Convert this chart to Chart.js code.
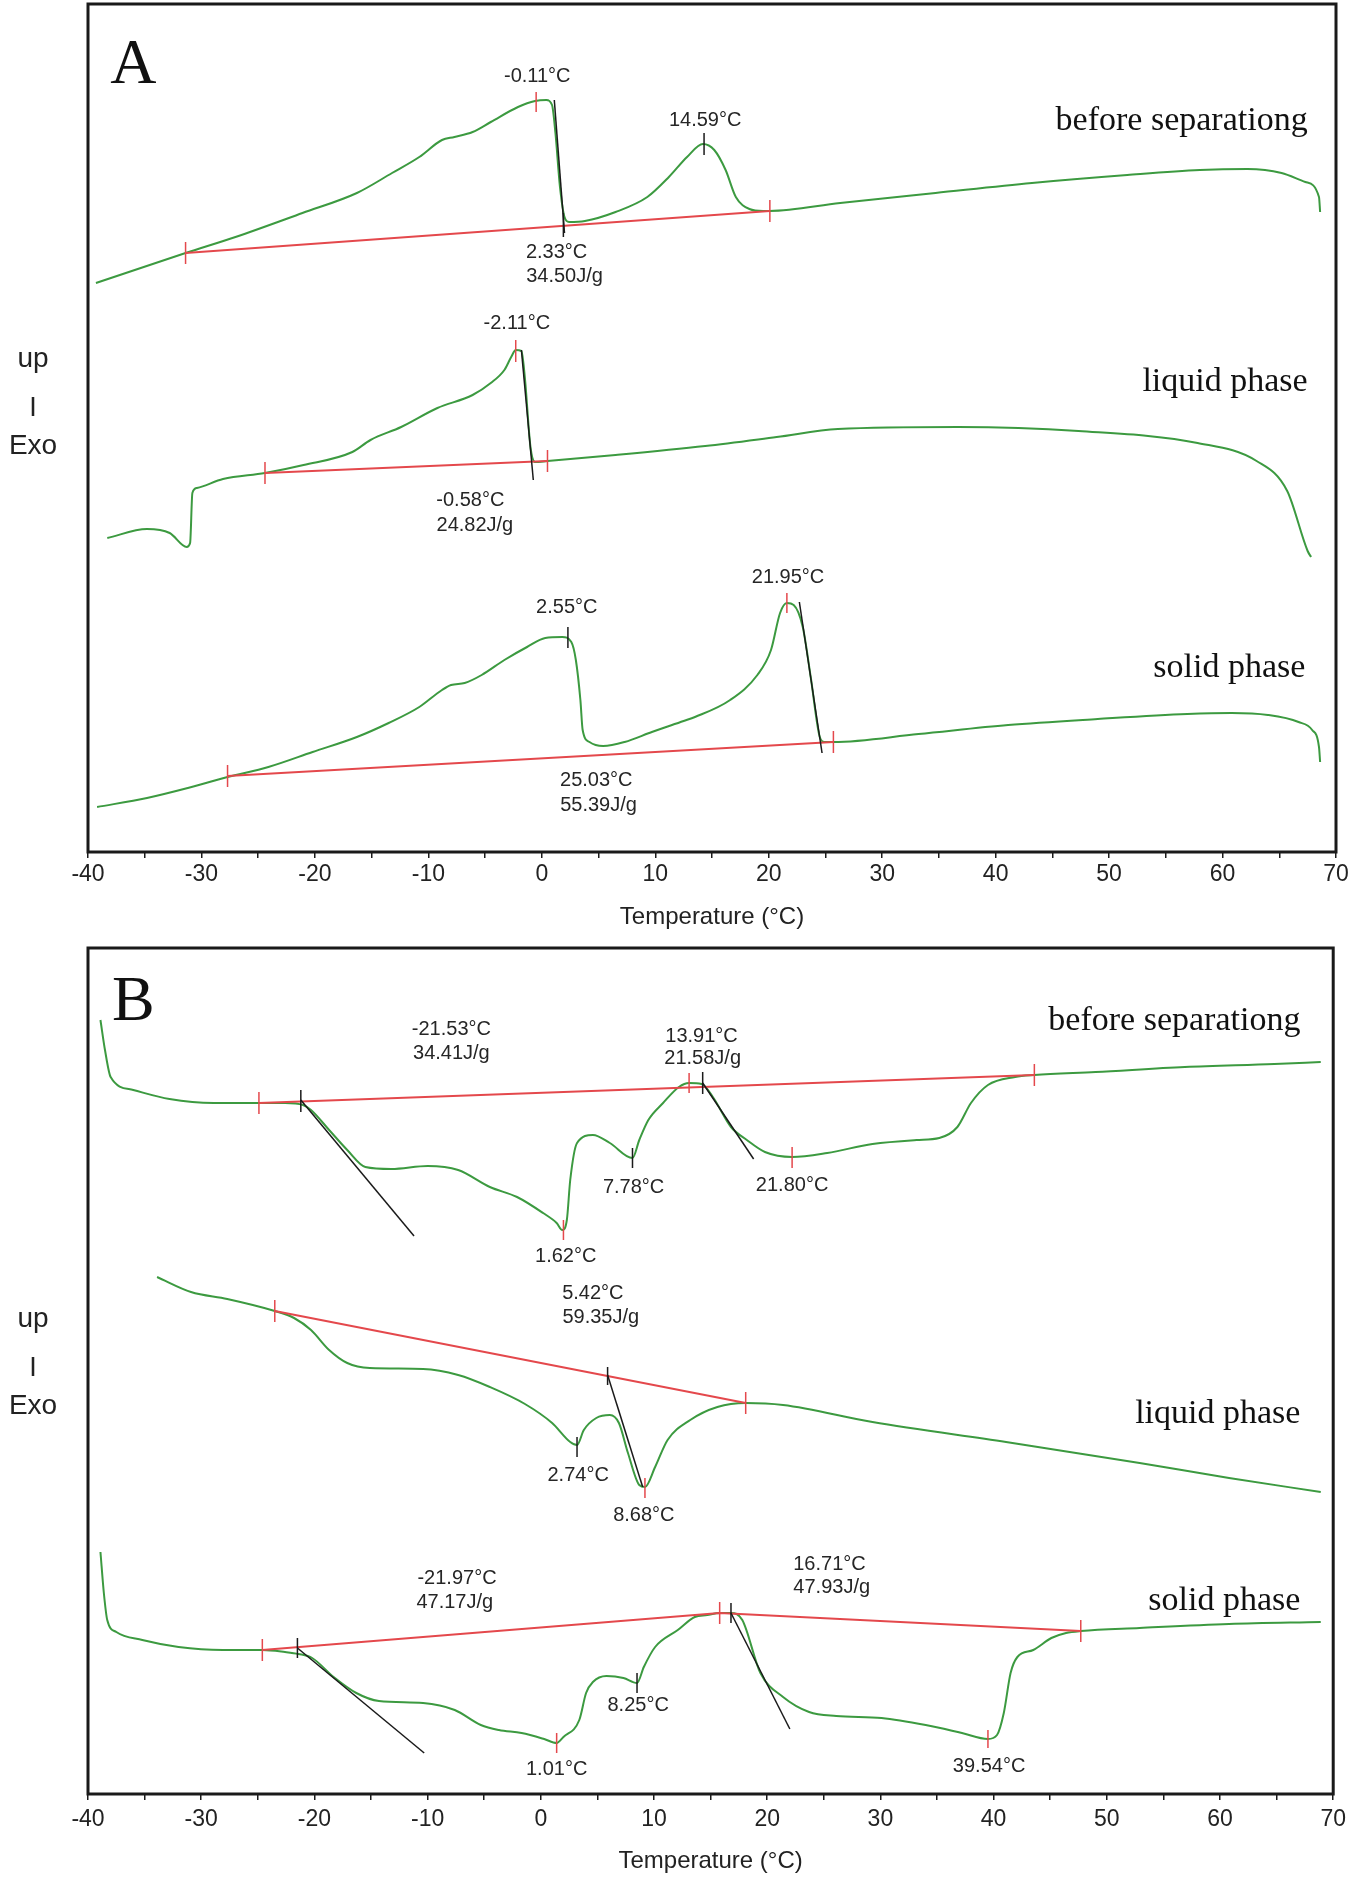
<!DOCTYPE html>
<html>
<head>
<meta charset="utf-8">
<title>DSC thermograms</title>
<script src="https://cdn.jsdelivr.net/npm/chart.js@4.4.0/dist/chart.umd.min.js"></script>
<style>
    html, body { margin: 0; padding: 0; background: #fff; }
    .panel { position: absolute; left: 0; width: 1352px; }
    #panelA { top: 0; height: 940px; }
    #panelB { top: 940px; height: 938px; }
</style>
</head>
<body>
<div class="panel" id="panelA"><canvas id="chartA"></canvas></div>
<div class="panel" id="panelB"><canvas id="chartB"></canvas></div>
<script>
// ============================================================================
// Data (heat flow in arbitrary units, exo up)
// ============================================================================

const majorTemps = [-40, -30, -20, -10, 0, 10, 20, 30, 40, 50, 60, 70];
const tempTicks = [-40, -35, -30, -25, -20, -15, -10, -5, 0, 5, 10, 15, 20, 25, 30, 35, 40, 45, 50, 55, 60, 65, 70];

// --- Panel A : before separation ---
const aBeforeTemp = [-39.3, -31.4, -27.0, -21.1, -16.3, -13.2, -10.8, -8.8, -7.7, -6.1, -4.5, -2.1, -0.6, 0.4, 0.9, 1.2, 1.6, 2.0, 2.4, 3.8, 6.5, 9.3, 11.2, 12.8, 14.2, 15.2, 16.2, 17.1, 18.3, 19.5, 20.1, 26.3, 34.7, 43.2, 51.6, 58.0, 62.2, 65.2, 67.3, 68.5, 68.6];
const aBeforeFlow = [569, 599, 615, 639, 659, 679, 695, 712, 715, 720, 730, 745, 751, 752, 747, 719, 665, 635, 630, 631, 640, 655, 675, 695, 708, 702, 682, 655, 643, 641, 641, 649, 659, 669, 677, 682, 683, 679, 670, 655, 640];
const aBeforeBaseTemp = [-31.4, 20.1];
const aBeforeBaseFlow = [599, 641];
const aBeforeTanTemp = [1.1, 2.0];
const aBeforeTanFlow = [752, 619];
const aBeforeRedTicks = [[-31.4, 588, 610], [-0.5, 740, 760], [20.1, 630, 652]];
const aBeforeBlackTicks = [[14.3, 697, 719], [1.9, 615, 639]];
const aBeforeNotes = [['-0.11°C', -0.4, 776], ['14.59°C', 14.4, 732], ['2.33°C', 1.3, 600], ['34.50J/g', 2.0, 576]];

// --- Panel A : liquid phase ---
const aLiquidTemp = [-38.3, -34.8, -32.8, -31.3, -31.0, -30.8, -30.4, -28.1, -24.4, -21.0, -16.7, -15.1, -12.4, -9.2, -6.1, -4.5, -3.3, -2.7, -2.3, -1.8, -1.5, -1.0, -0.6, 0.5, 6.5, 14.4, 20.7, 26.1, 36.7, 47.3, 57.8, 63.0, 65.7, 67.5, 67.8];
const aLiquidFlow = [314, 323, 319, 305, 309, 359, 364, 373, 379, 387, 400, 412, 425, 444, 457, 469, 482, 495, 502, 501, 475, 405, 390, 391, 397, 406, 415, 423, 425, 421, 409, 391, 361, 301, 295];
const aLiquidBaseTemp = [-24.4, 0.5];
const aLiquidBaseFlow = [379, 391];
const aLiquidTanTemp = [-1.8, -0.75];
const aLiquidTanFlow = [502, 372];
const aLiquidRedTicks = [[-24.4, 368, 390], [0.5, 380, 402], [-2.3, 490, 512]];
const aLiquidBlackTicks = [];
const aLiquidNotes = [['-2.11°C', -2.2, 529], ['-0.58°C', -6.3, 352], ['24.82J/g', -5.9, 327]];

// --- Panel A : solid phase ---
const aSolidTemp = [-39.2, -34.8, -31.2, -27.7, -24.1, -20.2, -16.3, -13.5, -10.8, -8.8, -8.0, -6.8, -5.3, -3.3, -1.3, 0.3, 1.8, 2.6, 3.0, 3.4, 3.6, 4.2, 5.4, 7.3, 9.7, 12.5, 13.5, 16.6, 19.0, 20.2, 21.0, 21.6, 22.2, 23.0, 23.7, 24.5, 24.9, 25.7, 33.2, 41.1, 49.0, 56.9, 60.8, 64.0, 66.7, 67.9, 68.5, 68.6];
const aSolidFlow = [45, 54, 64, 75, 85, 100, 115, 129, 145, 162, 167, 169, 177, 192, 205, 214, 215, 210, 192, 152, 122, 110, 106, 110, 120, 131, 135, 152, 177, 202, 239, 249, 247, 225, 175, 115, 110, 110, 118, 127, 133, 138, 139, 137, 130, 122, 105, 90];
const aSolidBaseTemp = [-27.7, 25.7];
const aSolidBaseFlow = [76, 110];
const aSolidTanTemp = [22.7, 24.7];
const aSolidTanFlow = [250, 99];
const aSolidRedTicks = [[-27.7, 65, 87], [25.7, 99, 121], [21.6, 239, 259]];
const aSolidBlackTicks = [[2.3, 204, 225]];
const aSolidNotes = [['2.55°C', 2.2, 245], ['21.95°C', 21.7, 275], ['25.03°C', 4.8, 72], ['55.39J/g', 5.0, 47]];

// --- Panel B : before separation ---
const bBeforeTemp = [-38.9, -38.5, -38.0, -36.0, -32.8, -28.9, -25.0, -22.6, -21.0, -20.3, -18.7, -17.1, -15.5, -13.2, -10.0, -7.3, -4.5, -2.1, 0.2, 1.4, 1.9, 2.3, 2.6, 3.2, 4.6, 6.1, 8.1, 8.7, 9.5, 10.8, 12.2, 13.1, 14.2, 15.2, 16.8, 18.2, 19.8, 22.2, 25.3, 29.3, 33.2, 35.2, 36.8, 38.0, 39.5, 41.9, 43.6, 49.0, 56.9, 64.8, 68.9];
const bBeforeFlow = [774, 744, 717, 704, 695, 691, 691, 691, 689, 684, 664, 644, 627, 625, 628, 624, 607, 597, 581, 571, 564, 574, 614, 651, 659, 651, 636, 654, 674, 691, 707, 711, 710, 697, 667, 654, 642, 637, 641, 650, 654, 656, 667, 691, 709, 717, 719, 722, 727, 730, 732];
const bBeforeBaseTemp = [-24.9, 43.6];
const bBeforeBaseFlow = [691, 719];
const bBeforeTan1Temp = [-21.2, -11.2];
const bBeforeTan1Flow = [694, 558];
const bBeforeTan2Temp = [14.3, 18.8];
const bBeforeTan2Flow = [711, 635];
const bBeforeRedTicks = [[-24.9, 680, 702], [13.1, 701, 721], [43.6, 708, 730], [2.0, 554, 574], [22.2, 626, 647]];
const bBeforeBlackTicks = [[-21.2, 682, 704], [14.3, 700, 722], [8.1, 626, 646]];
const bBeforeNotes = [['-21.53°C', -7.9, 765], ['34.41J/g', -7.9, 741], ['13.91°C', 14.2, 758], ['21.58J/g', 14.3, 736], ['7.78°C', 8.2, 607], ['1.62°C', 2.2, 538], ['21.80°C', 22.2, 609]];

// --- Panel B : liquid phase ---
const bLiquidTemp = [-33.9, -30.9, -27.7, -23.5, -21.8, -20.3, -18.7, -17.1, -15.1, -10.4, -7.3, -4.5, -1.4, 1.0, 2.6, 3.2, 3.8, 4.9, 6.1, 6.9, 7.7, 8.7, 9.2, 10.1, 11.2, 13.2, 15.6, 18.1, 21.4, 29.3, 41.1, 52.9, 60.8, 68.9];
const bLiquidFlow = [517, 502, 495, 483, 476, 464, 444, 431, 426, 425, 419, 407, 390, 371, 352, 349, 364, 376, 379, 371, 341, 309, 307, 327, 354, 374, 387, 391, 389, 372, 352, 331, 316, 302];
const bLiquidBaseTemp = [-23.5, 18.1];
const bLiquidBaseFlow = [483, 391];
const bLiquidTanTemp = [5.9, 9.0];
const bLiquidTanFlow = [419, 307];
const bLiquidRedTicks = [[-23.5, 472, 494], [18.1, 380, 402], [9.2, 296, 316]];
const bLiquidBlackTicks = [[3.2, 337, 357], [5.9, 409, 427]];
const bLiquidNotes = [['5.42°C', 4.6, 501], ['59.35J/g', 5.3, 477], ['2.74°C', 3.3, 319], ['8.68°C', 9.1, 279]];

// --- Panel B : solid phase ---
const bSolidTemp = [-38.9, -38.6, -38.3, -37.5, -35.2, -32.0, -28.1, -24.6, -22.6, -21.4, -20.2, -18.3, -16.3, -14.3, -10.4, -7.6, -5.3, -3.7, -1.7, 0.3, 1.4, 2.0, 3.4, 4.0, 4.6, 5.8, 7.3, 8.5, 9.1, 10.1, 12.1, 13.6, 14.7, 15.8, 16.8, 17.8, 19.4, 21.4, 23.7, 26.1, 30.1, 34.0, 37.2, 39.5, 40.3, 40.9, 41.5, 42.1, 43.5, 45.1, 46.4, 47.7, 52.9, 60.8, 68.9];
const bSolidFlow = [242, 201, 174, 162, 154, 147, 144, 144, 142, 140, 136, 117, 101, 93, 91, 84, 69, 64, 61, 55, 51, 57, 74, 101, 112, 118, 116, 111, 127, 147, 164, 177, 179, 181, 181, 174, 121, 97, 82, 78, 76, 69, 61, 55, 59, 81, 121, 137, 144, 156, 161, 163, 166, 170, 172];
const bSolidBaseTemp = [-24.6, 15.8, 47.7];
const bSolidBaseFlow = [144, 181, 163];
const bSolidTan1Temp = [-21.5, -10.3];
const bSolidTan1Flow = [146, 41];
const bSolidTan2Temp = [16.8, 22.0];
const bSolidTan2Flow = [181, 65];
const bSolidRedTicks = [[-24.6, 133, 155], [15.8, 170, 192], [47.7, 152, 174], [1.4, 41, 61], [39.5, 46, 64]];
const bSolidBlackTicks = [[-21.5, 136, 156], [8.5, 101, 121], [16.8, 171, 191]];
const bSolidNotes = [['-21.97°C', -7.4, 216], ['47.17J/g', -7.6, 192], ['1.01°C', 1.4, 25], ['8.25°C', 8.6, 89], ['16.71°C', 25.5, 230], ['47.93J/g', 25.7, 207], ['39.54°C', 39.6, 28]];

// sample names [text, right edge temp, baseline flow]
const aNames = [['before separationg', 67.5, 722], ['liquid phase', 67.5, 461], ['solid phase', 67.3, 175]];
const bNames = [['before separationg', 67.1, 764], ['liquid phase', 67.1, 371], ['solid phase', 67.1, 184]];

// ============================================================================
// Styling helpers
// ============================================================================

const GREEN = '#3c9a40';
const RED = '#e4484c';
const INK = '#1a1a1a';
const SANS = '"Liberation Sans", Arial, sans-serif';
const SERIF = '"Liberation Serif", "Times New Roman", serif';

Chart.defaults.font.family = SANS;
Chart.defaults.color = '#222';

const pts = (temps, flows) => temps.map((t, i) => ({ x: t, y: flows[i] }));

function markSets(list, color) {
    return list.map(m => ({
        data: [{ x: m[0], y: m[1] }, { x: m[0], y: m[2] }],
        borderColor: color, borderWidth: 1.5, pointRadius: 0, order: 1
    }));
}

// Frame, peak notes, sample names, panel letter and the "up | Exo" tag
const panelDecor = {
    id: 'panelDecor',
    afterDatasetsDraw(chart, args, opts) {
        const { ctx, chartArea: area, scales: { x, y } } = chart;
        ctx.save();

        ctx.strokeStyle = INK;
        ctx.lineWidth = 3;
        ctx.strokeRect(area.left, area.top, area.right - area.left, area.bottom - area.top);

        ctx.fillStyle = '#262626';
        ctx.font = '20px ' + SANS;
        ctx.textAlign = 'center';
        ctx.textBaseline = 'middle';
        opts.notes.forEach(([txt, t, h]) => ctx.fillText(txt, x.getPixelForValue(t), y.getPixelForValue(h)));

        ctx.fillStyle = '#111';
        ctx.font = '34px ' + SERIF;
        ctx.textAlign = 'right';
        ctx.textBaseline = 'alphabetic';
        opts.names.forEach(([txt, t, h]) => ctx.fillText(txt, x.getPixelForValue(t), y.getPixelForValue(h)));

        ctx.font = '64px ' + SERIF;
        ctx.textAlign = 'center';
        ctx.fillText(opts.letter, x.getPixelForValue(-36), area.top + opts.letterY);

        ctx.fillStyle = '#222';
        const cx = area.left - 55;
        ctx.font = '28px ' + SANS;
        ctx.fillText('up', cx, opts.tagY[0]);
        ctx.font = '27px ' + SANS;
        ctx.fillText('I', cx, opts.tagY[1]);
        ctx.font = '28px ' + SANS;
        ctx.fillText('Exo', cx, opts.tagY[2]);

        ctx.restore();
    }
};

// ============================================================================
// Chart builder
// ============================================================================

function buildPanel(canvasId, panel) {
    const datasets = [];
    panel.curves.forEach(c => datasets.push({
        data: pts(c[0], c[1]), borderColor: GREEN, borderWidth: 2,
        pointRadius: 0, cubicInterpolationMode: 'monotone', order: 3
    }));
    panel.baselines.forEach(b => datasets.push({
        data: pts(b[0], b[1]), borderColor: RED, borderWidth: 2, pointRadius: 0, order: 2
    }));
    panel.tangents.forEach(tg => datasets.push({
        data: pts(tg[0], tg[1]), borderColor: INK, borderWidth: 1.5, pointRadius: 0, order: 1
    }));
    datasets.push(...markSets(panel.redTicks, RED), ...markSets(panel.blackTicks, INK));

    return new Chart(document.getElementById(canvasId), {
        type: 'line',
        data: { datasets },
        options: {
            responsive: true,
            maintainAspectRatio: false,
            animation: false,
            events: [],
            layout: { padding: { left: 88, right: 16, top: panel.padTop, bottom: 0 } },
            plugins: {
                legend: { display: false },
                tooltip: { enabled: false },
                panelDecor: {
                    notes: panel.notes, names: panel.names, letter: panel.letter,
                    letterY: panel.letterY, tagY: panel.tagY
                }
            },
            scales: {
                x: {
                    type: 'linear', min: -40, max: 70,
                    afterBuildTicks: s => { s.ticks = tempTicks.map(v => ({ value: v })); },
                    afterFit: s => { s.height = panel.axisHeight; },
                    ticks: {
                        autoSkip: false, maxRotation: 0, padding: panel.tickPad,
                        color: '#222', font: { size: 23 },
                        callback: v => majorTemps.includes(v) ? String(v) : ''
                    },
                    grid: { drawOnChartArea: false, drawTicks: true, tickLength: 6, color: INK, lineWidth: 1.5 },
                    border: { display: false },
                    title: {
                        display: true, text: 'Temperature (°C)', color: '#222',
                        font: { size: 24 }, padding: { top: 0, bottom: panel.titlePad }
                    }
                },
                y: { display: false, min: 0, max: panel.flowMax }
            }
        },
        plugins: [panelDecor]
    });
}

// ============================================================================
// Initialization
// ============================================================================

buildPanel('chartA', {
    curves: [[aBeforeTemp, aBeforeFlow], [aLiquidTemp, aLiquidFlow], [aSolidTemp, aSolidFlow]],
    baselines: [[aBeforeBaseTemp, aBeforeBaseFlow], [aLiquidBaseTemp, aLiquidBaseFlow], [aSolidBaseTemp, aSolidBaseFlow]],
    tangents: [[aBeforeTanTemp, aBeforeTanFlow], [aLiquidTanTemp, aLiquidTanFlow], [aSolidTanTemp, aSolidTanFlow]],
    redTicks: [...aBeforeRedTicks, ...aLiquidRedTicks, ...aSolidRedTicks],
    blackTicks: [...aBeforeBlackTicks, ...aLiquidBlackTicks, ...aSolidBlackTicks],
    notes: [...aBeforeNotes, ...aLiquidNotes, ...aSolidNotes],
    names: aNames,
    letter: 'A', letterY: 79,
    tagY: [367, 416, 454],
    padTop: 4, flowMax: 848, axisHeight: 88, tickPad: 3, titlePad: 8
});

buildPanel('chartB', {
    curves: [[bBeforeTemp, bBeforeFlow], [bLiquidTemp, bLiquidFlow], [bSolidTemp, bSolidFlow]],
    baselines: [[bBeforeBaseTemp, bBeforeBaseFlow], [bLiquidBaseTemp, bLiquidBaseFlow], [bSolidBaseTemp, bSolidBaseFlow]],
    tangents: [[bBeforeTan1Temp, bBeforeTan1Flow], [bBeforeTan2Temp, bBeforeTan2Flow], [bLiquidTanTemp, bLiquidTanFlow],
        [bSolidTan1Temp, bSolidTan1Flow], [bSolidTan2Temp, bSolidTan2Flow]],
    redTicks: [...bBeforeRedTicks, ...bLiquidRedTicks, ...bSolidRedTicks],
    blackTicks: [...bBeforeBlackTicks, ...bLiquidBlackTicks, ...bSolidBlackTicks],
    notes: [...bBeforeNotes, ...bLiquidNotes, ...bSolidNotes],
    names: bNames,
    letter: 'B', letterY: 72,
    tagY: [387, 436, 474],
    padTop: 8, flowMax: 846, axisHeight: 84, tickPad: 6, titlePad: 2
});
</script>
</body>
</html>
